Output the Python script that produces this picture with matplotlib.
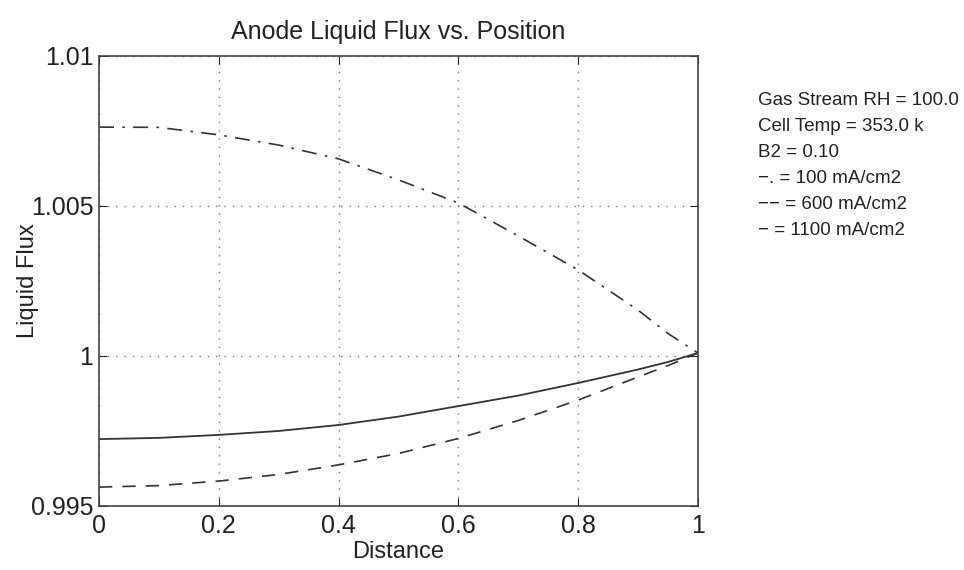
import matplotlib.pyplot as plt

plt.rcParams['font.family'] = ['Liberation Sans', 'DejaVu Sans']

# Data
distance = [0.0, 0.1, 0.2, 0.3, 0.4, 0.5, 0.6, 0.7, 0.8, 0.9, 0.95, 1.0]
flux_100 = [1.00763, 1.00762, 1.00737, 1.00703, 1.00657, 1.00587, 1.00510,
            1.00400, 1.00287, 1.00153, 1.00075, 1.00010]
flux_600 = [0.99563, 0.99568, 0.99583, 0.99605, 0.99637, 0.99675, 0.99725,
            0.99785, 0.99853, 0.99930, 0.99968, 1.00010]
flux_1100 = [0.99723, 0.99727, 0.99737, 0.99750, 0.99770, 0.99798, 0.99833,
             0.99868, 0.99910, 0.99955, 0.99980, 1.00010]

xticks = [0, 0.2, 0.4, 0.6, 0.8, 1.0]
xtick_labels = ["0", "0.2", "0.4", "0.6", "0.8", "1"]
yticks = [0.995, 1.0, 1.005, 1.01]
ytick_labels = ["0.995", "1", "1.005", "1.01"]

notes = [
    "Gas Stream RH = 100.0",
    "Cell Temp = 353.0 k",
    "B2 = 0.10",
    "\u2212. = 100 mA/cm2",
    "\u2212\u2212 = 600 mA/cm2",
    "\u2212 = 1100 mA/cm2",
]

fig = plt.figure(figsize=(9.64, 5.70), dpi=100)
ax = fig.add_axes([0.1027, 0.1123, 0.6213, 0.7895])

ink = "#333333"
ax.plot(distance, flux_100, color=ink, lw=1.2, ls=(0, (9, 5, 1.5, 5)))
ax.plot(distance, flux_600, color=ink, lw=1.2, ls=(0, (8, 6)))
ax.plot(distance, flux_1100, color=ink, lw=1.3, ls="-")

ax.set_xlim(0, 1)
ax.set_ylim(0.995, 1.01)
ax.set_xticks(xticks)
ax.set_xticklabels(xtick_labels)
ax.set_yticks(yticks)
ax.set_yticklabels(ytick_labels)
ax.tick_params(direction="in", top=True, right=True, length=6,
               labelsize=18, colors="#222222", pad=4)
ax.tick_params(axis="x", pad=6)
ax.grid(True, ls=(0, (1, 5)), color="#777777", lw=1.0)
for s in ax.spines.values():
    s.set_color("#444444")
    s.set_linewidth(1.2)

ax.set_title("Anode Liquid Flux vs. Position", fontsize=18, color="#222222", pad=12)
ax.set_xlabel("Distance", fontsize=17, color="#222222", labelpad=2)
ax.set_ylabel("Liquid Flux", fontsize=17, color="#222222")
ax.yaxis.set_label_coords(-0.1, 0.5)

fig.text(0.786, 0.838, "\n".join(notes), fontsize=13.5, color="#222222",
         va="top", ha="left", linespacing=1.68)

fig.savefig("out.png", dpi=100)
